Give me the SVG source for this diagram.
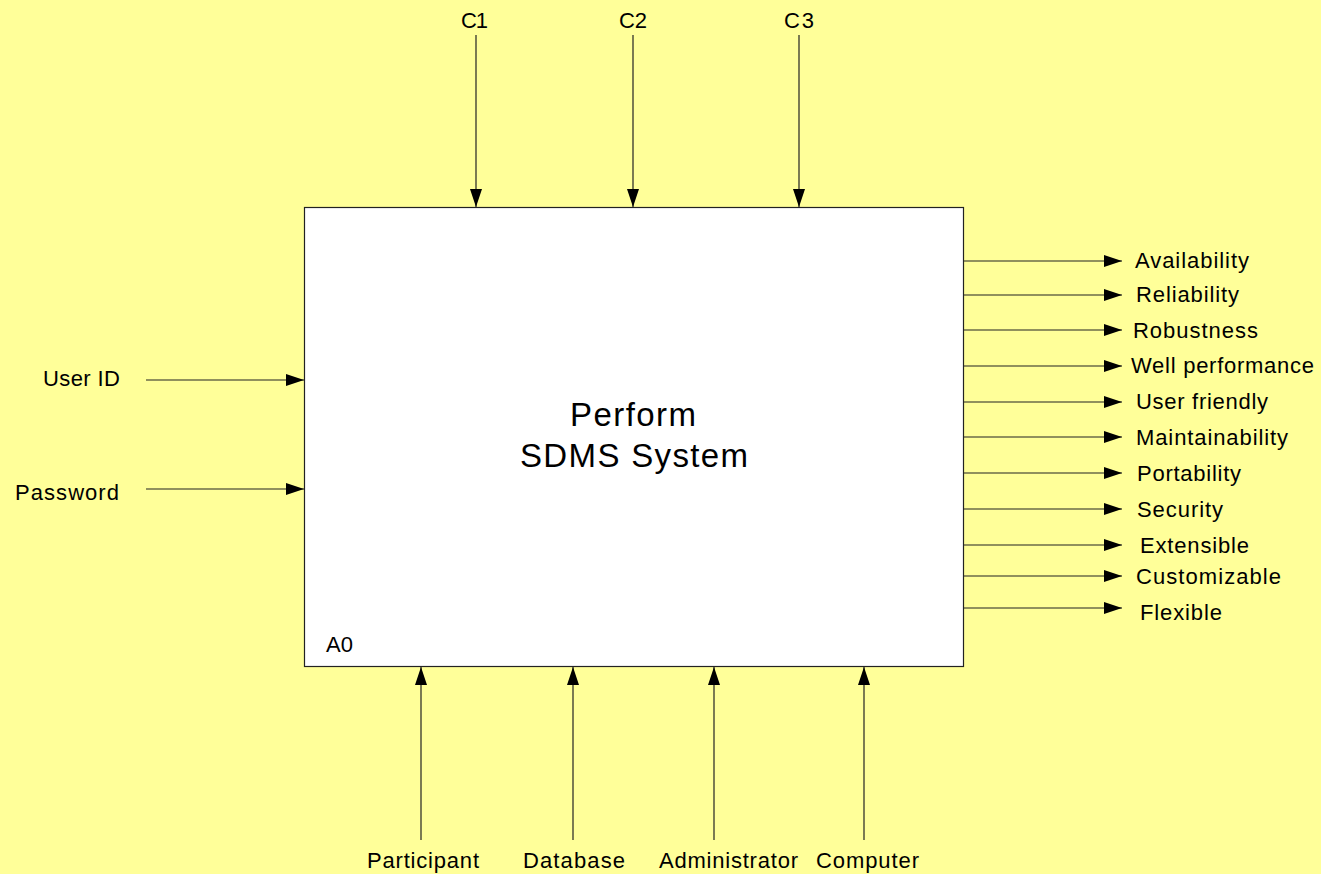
<svg xmlns="http://www.w3.org/2000/svg" width="1321" height="874" viewBox="0 0 1321 874">
<defs>
<style>
.t{font-family:"Liberation Sans",Arial,sans-serif;font-size:22px;fill:#000}
.c{stroke:#222;stroke-width:1.2;fill:none;marker-end:url(#ah)}
</style>
<marker id="ah" markerUnits="userSpaceOnUse" markerWidth="18" markerHeight="12" refX="18" refY="6" orient="auto">
<path d="M0,0 L18,6 L0,12 z" fill="#000"/>
</marker>
</defs>
<rect width="1321" height="874" fill="#FFFF99"/>
<g id="A0">
<rect x="304.5" y="207.5" width="659" height="459" fill="#fff" stroke="#222" stroke-width="1.2"/>
<text class="t" x="633" y="426" text-anchor="middle" style="font-size:33px" textLength="126" lengthAdjust="spacing">Perform</text>
<text class="t" x="634" y="467" text-anchor="middle" style="font-size:33px" textLength="228" lengthAdjust="spacing">SDMS System</text>
<text class="t" x="326" y="652" textLength="27" lengthAdjust="spacing">A0</text>
</g>
<g id="connectors">
<line class="c" x1="476" y1="35" x2="476" y2="207"/>
<line class="c" x1="633" y1="35" x2="633" y2="207"/>
<line class="c" x1="799" y1="35" x2="799" y2="207"/>
<line class="c" x1="421" y1="840" x2="421" y2="667"/>
<line class="c" x1="573" y1="840" x2="573" y2="667"/>
<line class="c" x1="714" y1="840" x2="714" y2="667"/>
<line class="c" x1="864" y1="840" x2="864" y2="667"/>
<line class="c" x1="146" y1="380" x2="304" y2="380"/>
<line class="c" x1="146" y1="489" x2="304" y2="489"/>
<line class="c" x1="964" y1="261" x2="1122" y2="261"/>
<line class="c" x1="964" y1="295" x2="1122" y2="295"/>
<line class="c" x1="964" y1="330" x2="1122" y2="330"/>
<line class="c" x1="964" y1="366" x2="1122" y2="366"/>
<line class="c" x1="964" y1="402" x2="1122" y2="402"/>
<line class="c" x1="964" y1="437" x2="1122" y2="437"/>
<line class="c" x1="964" y1="473" x2="1122" y2="473"/>
<line class="c" x1="964" y1="509" x2="1122" y2="509"/>
<line class="c" x1="964" y1="545" x2="1122" y2="545"/>
<line class="c" x1="964" y1="576" x2="1122" y2="576"/>
<line class="c" x1="964" y1="608" x2="1122" y2="608"/>
</g>
<g id="controls">
<text class="t" x="461" y="28" textLength="27" lengthAdjust="spacing">C1</text>
<text class="t" x="619" y="28" textLength="28" lengthAdjust="spacing">C2</text>
<text class="t" x="784" y="28" textLength="30" lengthAdjust="spacing">C3</text>
</g>
<g id="inputs">
<text class="t" x="43" y="386" textLength="77" lengthAdjust="spacing">User ID</text>
<text class="t" x="15" y="500" textLength="104" lengthAdjust="spacing">Password</text>
</g>
<g id="mechanisms">
<text class="t" x="367" y="868" textLength="112" lengthAdjust="spacing">Participant</text>
<text class="t" x="523" y="868" textLength="102" lengthAdjust="spacing">Database</text>
<text class="t" x="659" y="868" textLength="139" lengthAdjust="spacing">Administrator</text>
<text class="t" x="816" y="868" textLength="103" lengthAdjust="spacing">Computer</text>
</g>
<g id="outputs">
<text class="t" x="1135" y="268" textLength="114" lengthAdjust="spacing">Availability</text>
<text class="t" x="1136" y="302" textLength="103" lengthAdjust="spacing">Reliability</text>
<text class="t" x="1133" y="338" textLength="125" lengthAdjust="spacing">Robustness</text>
<text class="t" x="1131" y="373" textLength="183" lengthAdjust="spacing">Well performance</text>
<text class="t" x="1136" y="409" textLength="132" lengthAdjust="spacing">User friendly</text>
<text class="t" x="1136" y="445" textLength="152" lengthAdjust="spacing">Maintainability</text>
<text class="t" x="1137" y="481" textLength="104" lengthAdjust="spacing">Portability</text>
<text class="t" x="1137" y="517" textLength="86" lengthAdjust="spacing">Security</text>
<text class="t" x="1140" y="553" textLength="109" lengthAdjust="spacing">Extensible</text>
<text class="t" x="1136" y="584" textLength="145" lengthAdjust="spacing">Customizable</text>
<text class="t" x="1140" y="620" textLength="82" lengthAdjust="spacing">Flexible</text>
</g>
</svg>
